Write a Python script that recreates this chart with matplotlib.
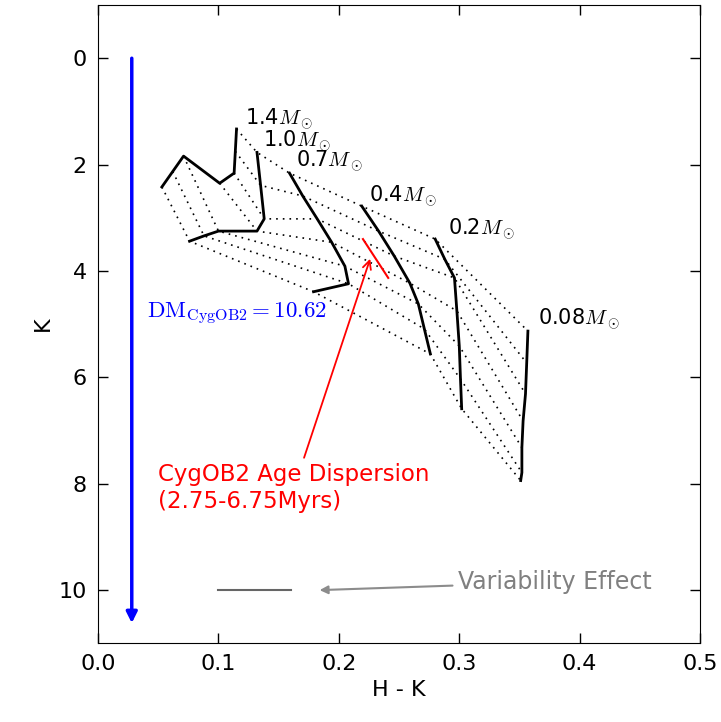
import numpy as np
import matplotlib
matplotlib.use('Agg')
import matplotlib.pyplot as plt

plt.rcParams['mathtext.fontset'] = 'cm'

# mass tracks: H-K and K at each isochrone (youngest first)
masses = ['1.4', '1.0', '0.7', '0.4', '0.2', '0.08']
track_hk = [
    [0.115, 0.114, 0.113, 0.101, 0.071, 0.062, 0.053],
    [0.132, 0.135, 0.138, 0.132, 0.100, 0.088, 0.076],
    [0.159, 0.170, 0.182, 0.194, 0.205, 0.208, 0.179],
    [0.219, 0.233, 0.246, 0.259, 0.266, 0.271, 0.276],
    [0.280, 0.288, 0.296, 0.298, 0.300, 0.301, 0.302],
    [0.357, 0.356, 0.355, 0.353, 0.352, 0.352, 0.351],
]
track_k = [
    [1.33, 1.75, 2.16, 2.35, 1.84, 2.13, 2.42],
    [1.77, 2.39, 3.02, 3.25, 3.25, 3.34, 3.44],
    [2.16, 2.59, 3.02, 3.46, 3.91, 4.24, 4.39],
    [2.78, 3.25, 3.72, 4.23, 4.62, 5.09, 5.56],
    [3.40, 3.78, 4.13, 4.75, 5.41, 6.03, 6.59],
    [5.13, 5.73, 6.31, 6.82, 7.32, 7.79, 7.94],
]
label_pos = [(0.122, 1.15), (0.137, 1.56), (0.164, 1.93),
             (0.225, 2.59), (0.291, 3.21), (0.365, 4.90)]

dm_cygob2 = 10.62
dm_x = 0.028

# age dispersion bar and variability bar
age_bar_hk = [0.220, 0.241]
age_bar_k = [3.40, 4.13]
var_bar_hk = [0.10, 0.16]
var_bar_k = [10.0, 10.0]


def run():
    fig = plt.figure(figsize=(7.21, 7.22), dpi=100)
    ax = fig.add_axes([0.136, 0.109, 0.835, 0.884])

    hk = np.array(track_hk)
    kk = np.array(track_k)

    # isochrones (dotted) connect the same age across masses
    for j in range(hk.shape[1]):
        ax.plot(hk[:, j], kk[:, j], color='k', lw=1.2, linestyle=(0, (1, 3)))

    # mass tracks
    for i in range(hk.shape[0]):
        ax.plot(hk[i], kk[i], color='k', lw=2)
        ax.text(label_pos[i][0], label_pos[i][1], masses[i] + r'$M_\odot$',
                fontsize=15, ha='left', va='center')

    # distance modulus arrow
    ax.annotate('', xy=(dm_x, dm_cygob2), xytext=(dm_x, 0),
                arrowprops=dict(arrowstyle='-|>', color='blue', lw=2.5,
                                mutation_scale=16, shrinkA=0, shrinkB=0))
    ax.text(0.041, 4.81, r'$\rm{DM}_{\rm{CygOB2}} = %.2f$' % dm_cygob2,
            color='blue', fontsize=16.5, ha='left', va='center')

    # age dispersion
    ax.plot(age_bar_hk, age_bar_k, color='red', lw=1.5)
    ax.annotate('CygOB2 Age Dispersion\n(2.75-6.75Myrs)', xy=(0.226, 3.77),
                xytext=(0.05, 8.08), color='red', fontsize=16.5,
                ha='left', va='center',
                arrowprops=dict(arrowstyle='->', color='red', lw=1.3,
                                mutation_scale=15, shrinkB=0))

    # variability
    ax.plot(var_bar_hk, var_bar_k, color='0.4', lw=1.5)
    ax.annotate('Variability Effect', xy=(0.184, 10.0), xytext=(0.299, 9.85),
                color='0.5', fontsize=17, ha='left', va='center',
                arrowprops=dict(arrowstyle='-|>', color='0.55', lw=1.5,
                                mutation_scale=12, shrinkB=0))

    ax.set_xlim(0, 0.5)
    ax.set_ylim(11, -1)
    ax.set_xticks(np.arange(0, 0.51, 0.1))
    ax.set_yticks(np.arange(0, 11, 2))
    ax.set_xticklabels(['%.1f' % t for t in np.arange(0, 0.51, 0.1)])
    ax.tick_params(direction='in', top=True, right=True, length=7, width=1,
                   labelsize=16, pad=8)
    ax.set_xlabel('H - K', fontsize=16)
    ax.set_ylabel('K', fontsize=16)

    fig.savefig('out.png', dpi=100)


if __name__ == "__main__":
    run()
